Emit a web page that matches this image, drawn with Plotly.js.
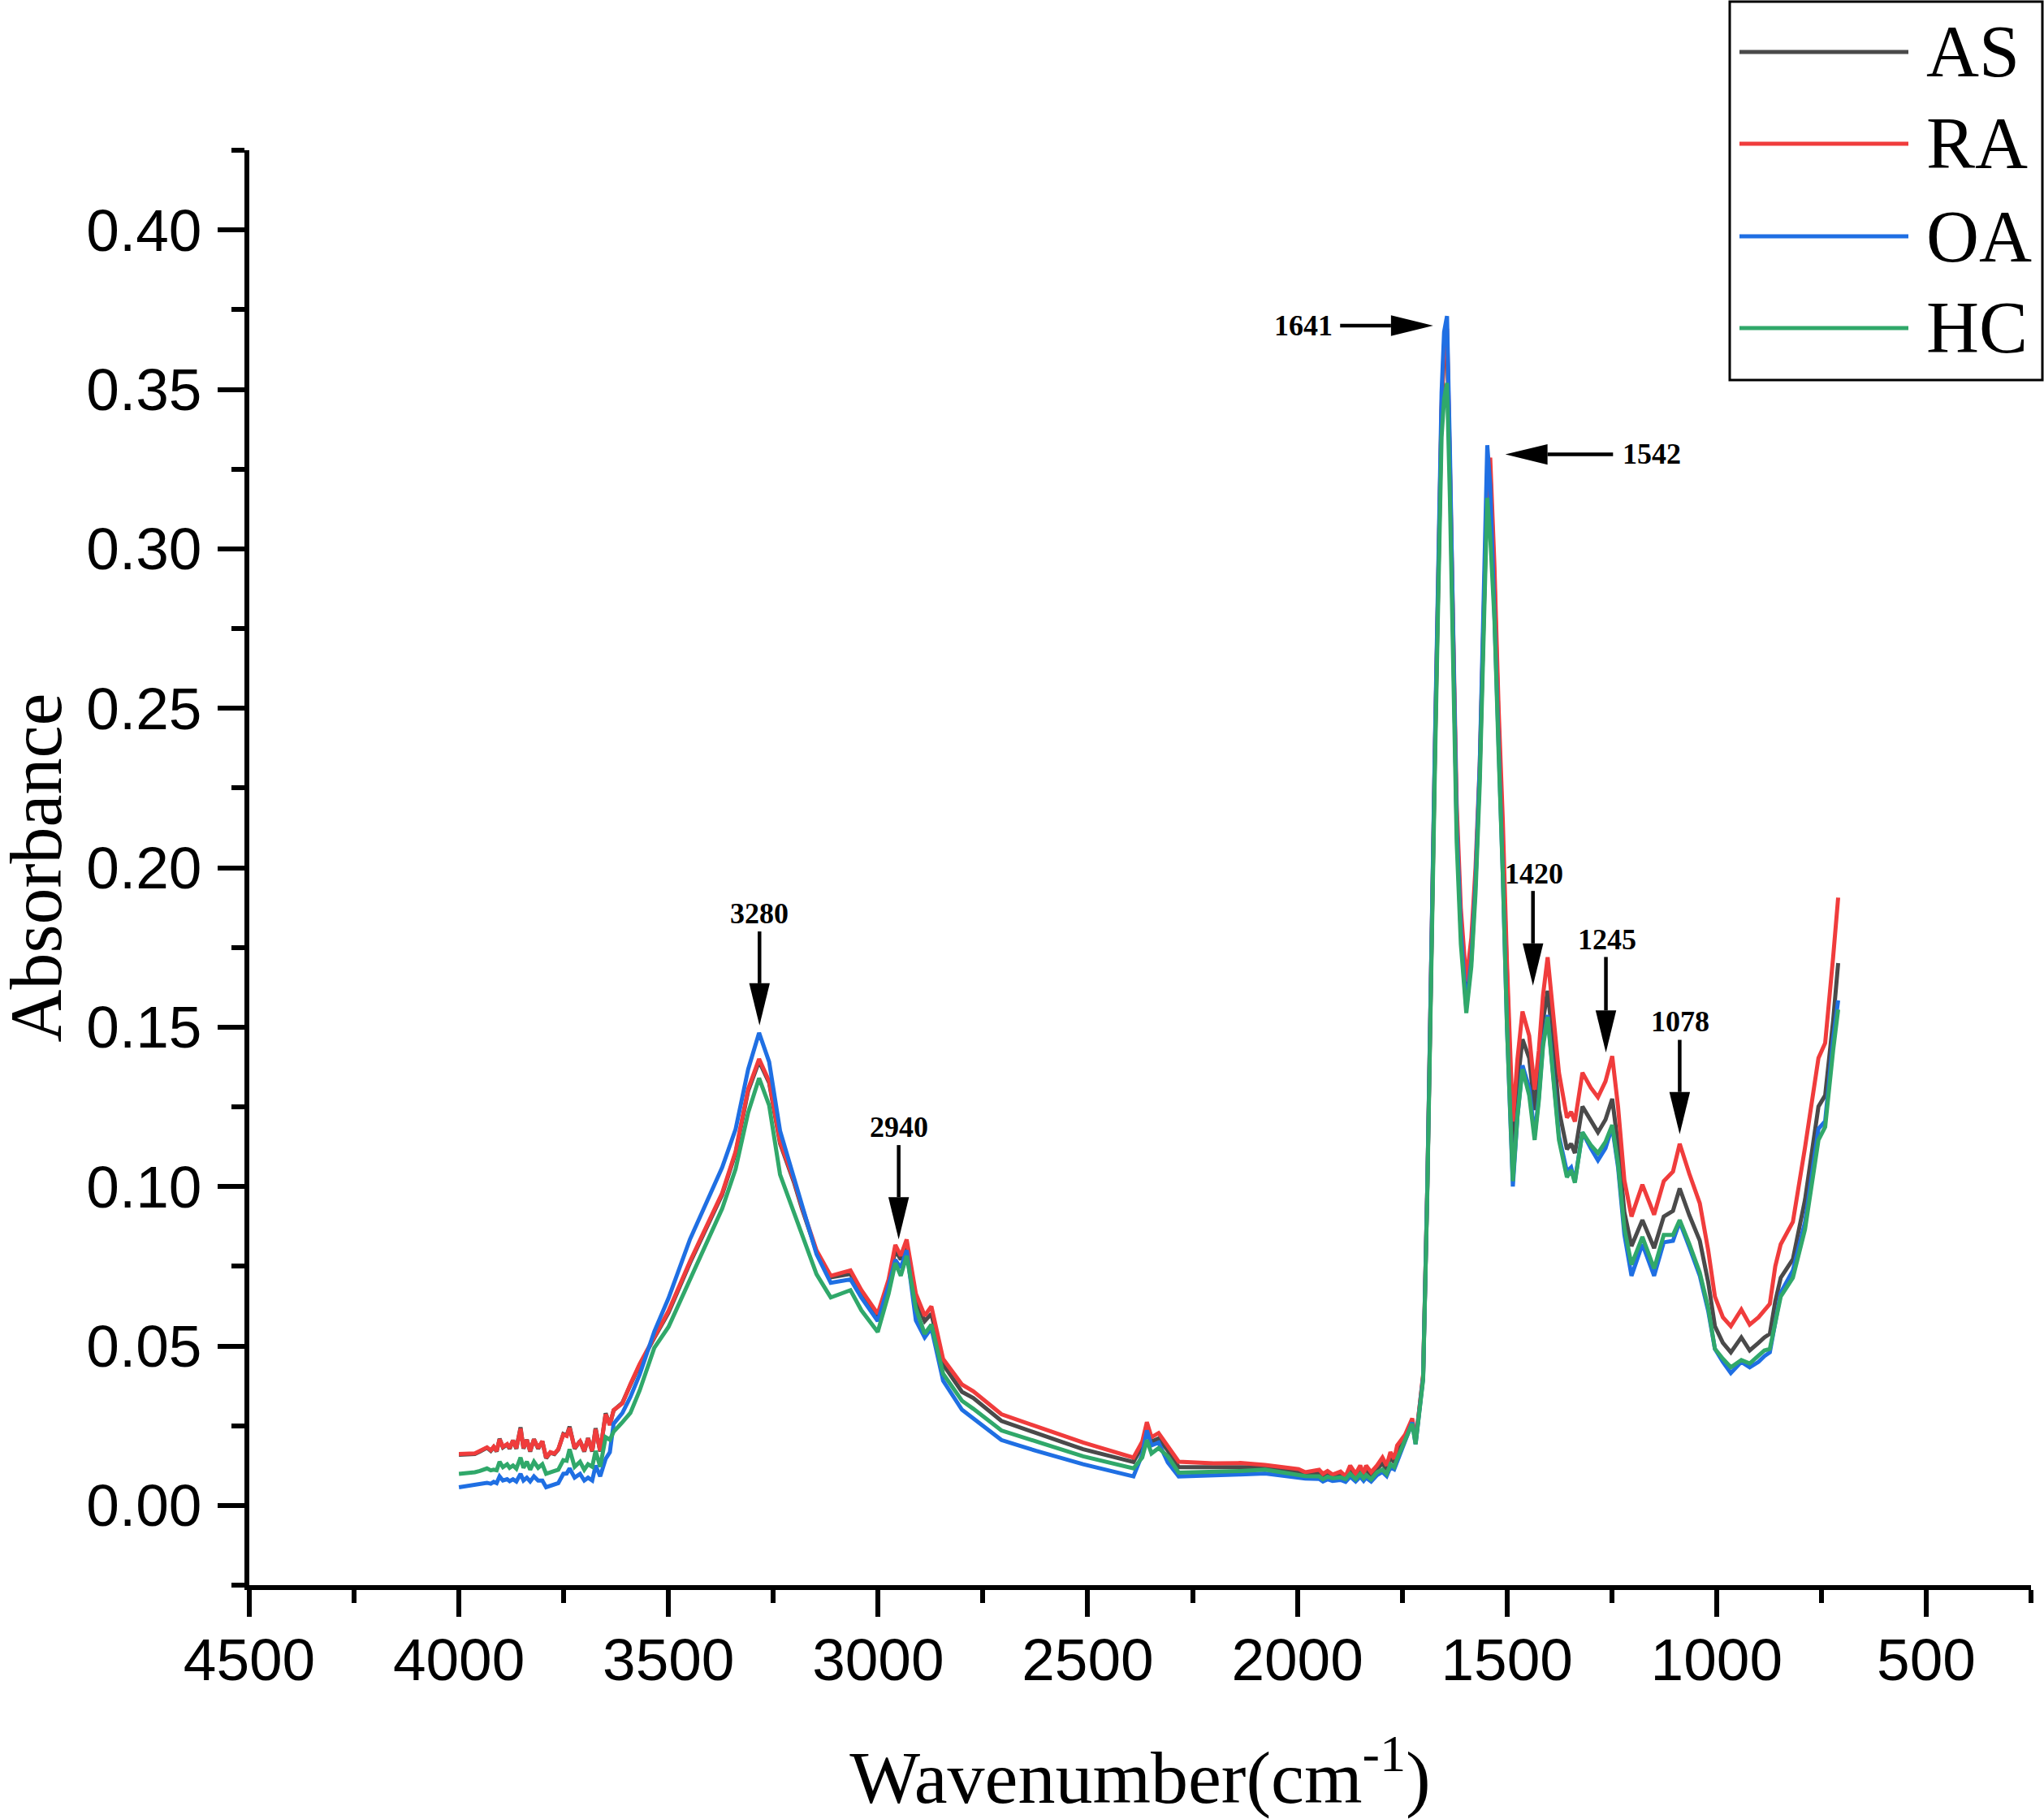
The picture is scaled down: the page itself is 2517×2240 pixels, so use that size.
<!DOCTYPE html>
<html>
<head>
<meta charset="utf-8">
<script src="https://cdn.plot.ly/plotly-3.0.1.min.js"></script>
<style>
  body { margin: 0; background: #fff; }
  #chart { width: 2517px; height: 2240px; }
</style>
</head>
<body>
<div id="chart"></div>
<script>
// FTIR spectra of the four samples

const wavenumber = [
  4000, 3982, 3962, 3950, 3933, 3924, 3917, 3910, 3903, 3895,
  3885, 3879, 3871, 3863, 3853, 3846, 3838, 3830, 3821, 3811,
  3801, 3792, 3782, 3772, 3763, 3751, 3743, 3736, 3724, 3711,
  3701, 3692, 3682, 3674, 3663, 3650, 3640,
  3631, 3610, 3591, 3569, 3534, 3500, 3449, 3410, 3372, 3340,
  3310, 3284, 3260, 3234, 3200, 3182, 3147, 3113, 3066, 3040,
  3001, 2975, 2959, 2946, 2932, 2910, 2889, 2873, 2845, 2800,
  2773, 2706, 2623, 2511, 2391, 2370, 2359, 2348, 2331, 2309,
  2283, 2200, 2136,
  2077, 2039, 1997, 1981, 1948, 1939, 1928, 1916, 1897, 1885,
  1874, 1861, 1850, 1842, 1836, 1824, 1810, 1797, 1787, 1778,
  1769, 1762,
  1743, 1726, 1718,
  1709, 1700, 1690, 1680, 1672, 1664, 1656, 1650, 1643, 1636,
  1628, 1620, 1610, 1597, 1585, 1575, 1565, 1555, 1547, 1540,
  1530, 1520, 1510, 1500, 1486, 1475, 1463, 1447, 1434, 1424,
  1414, 1403, 1390, 1376, 1357, 1347, 1338, 1320, 1300, 1283,
  1265, 1249, 1235, 1220, 1203, 1177, 1149, 1126, 1104, 1088,
  1065, 1040, 1020, 1004, 985, 966, 941, 921, 900, 886,
  873, 860, 847, 818, 789, 757, 741, 722, 710
];

const asValues = [
  .0159, .0159, .0161, .0169, .0181, .0171, .0183, .0169, .0209, .0182,
  .0191, .0178, .0204, .0178, .0245, .0178, .0206, .0169, .0208, .0178,
  .0201, .0148, .0165, .0161, .0175, .0224, .0219, .0247, .0178, .0202,
  .0169, .0211, .0169, .0242, .0169, .0289, .0253,
  .0298, .0322, .0378, .0440, .0525, .0605, .0760, .0870, .0975, .1105,
  .1300, .1393, .1325, .1135, .1010, .0932, .0795, .0715, .0726, .0665,
  .0590, .0700, .0800, .0771, .0815, .0641, .0578, .0601, .0442, .0356,
  .0337, .0265, .0227, .0176, .0136, .0185, .0248, .0200, .0210, .0172,
  .0120, .0120, .0120,
  .0120, .0113, .0106, .0098, .0103, .0092, .0100, .0090, .0097, .0086,
  .0112, .0090, .0112, .0092, .0112, .0095, .0115, .0132, .0113, .0150,
  .0135, .0170,
  .0215, .0268, .0200,
  .0298, .0405, .0995, .1840, .2350, .2890, .3430, .3620, .3660, .3240,
  .2620, .2150, .1820, .1600, .1740, .1960, .2300, .2830, .3210, .3240,
  .2900, .2450, .2080, .1620, .1123, .1320, .1462, .1403, .1240, .1360,
  .1520, .1614, .1450, .1240, .1117, .1134, .1105, .1251, .1210, .1170,
  .1210, .1275, .1130, .0920, .0813, .0895, .0807, .0906, .0924, .0994,
  .0910, .0830, .0700, .0562, .0510, .0480, .0527, .0486, .0510, .0527,
  .0538, .0640, .0714, .0772, .0959, .1251, .1286, .1520, .1701
];

const raValues = [
  .0161, .0161, .0163, .0171, .0182, .0173, .0184, .0171, .0207, .0184,
  .0192, .0180, .0203, .0180, .0241, .0180, .0205, .0171, .0207, .0180,
  .0201, .0150, .0167, .0163, .0176, .0222, .0218, .0243, .0180, .0201,
  .0171, .0210, .0171, .0239, .0171, .0286, .0252,
  .0299, .0320, .0380, .0443, .0528, .0610, .0765, .0875, .0980, .1110,
  .1306, .1400, .1330, .1140, .1016, .0937, .0800, .0720, .0737, .0675,
  .0601, .0709, .0817, .0783, .0834, .0664, .0595, .0624, .0459, .0379,
  .0358, .0286, .0248, .0197, .0150, .0200, .0261, .0214, .0227, .0188,
  .0137, .0132, .0133,
  .0127, .0120, .0114, .0104, .0112, .0099, .0108, .0097, .0106, .0091,
  .0125, .0099, .0125, .0099, .0125, .0104, .0125, .0150, .0125, .0167,
  .0146, .0188,
  .0222, .0273, .0205,
  .0303, .0410, .1000, .1850, .2360, .2900, .3450, .3640, .3690, .3260,
  .2650, .2200, .1870, .1643, .1780, .2000, .2320, .2850, .3220, .3286,
  .2950, .2500, .2150, .1700, .1204, .1400, .1549, .1473, .1304, .1427,
  .1600, .1719, .1550, .1357, .1216, .1234, .1204, .1357, .1310, .1280,
  .1330, .1409, .1250, .1020, .0906, .1006, .0912, .1017, .1047, .1134,
  .1040, .0947, .0800, .0655, .0590, .0562, .0614, .0567, .0590, .0614,
  .0632, .0750, .0819, .0889, .1123, .1403, .1450, .1719, .1906
];

const oaValues = [
  .0057, .0060, .0066, .0068, .0071, .0068, .0074, .0070, .0091, .0078,
  .0082, .0076, .0082, .0075, .0099, .0078, .0087, .0075, .0091, .0078,
  .0078, .0057, .0062, .0066, .0070, .0099, .0100, .0116, .0087, .0099,
  .0078, .0087, .0078, .0125, .0091, .0146, .0167,
  .0256, .0290, .0340, .0410, .0545, .0650, .0834, .0950, .1060, .1180,
  .1368, .1482, .1391, .1175, .1027, .0947, .0788, .0698, .0709, .0652,
  .0578, .0690, .0770, .0745, .0800, .0580, .0527, .0556, .0391, .0300,
  .0273, .0205, .0171, .0129, .0091, .0160, .0235, .0188, .0197, .0135,
  .0091, .0093, .0097,
  .0100, .0094, .0088, .0084, .0083, .0075, .0082, .0077, .0080, .0074,
  .0090, .0075, .0090, .0077, .0087, .0075, .0095, .0105, .0092, .0120,
  .0113, .0138,
  .0205, .0260, .0192,
  .0290, .0400, .1000, .1860, .2380, .2930, .3490, .3680, .3730, .3300,
  .2620, .2130, .1800, .1560, .1710, .1950, .2320, .2880, .3325, .3200,
  .2820, .2360, .1980, .1500, .1000, .1220, .1380, .1310, .1160, .1280,
  .1450, .1538, .1370, .1158, .1047, .1060, .1017, .1170, .1120, .1082,
  .1120, .1187, .1060, .0850, .0720, .0819, .0720, .0825, .0830, .0889,
  .0810, .0720, .0610, .0491, .0450, .0415, .0450, .0433, .0450, .0468,
  .0480, .0580, .0667, .0737, .0889, .1181, .1205, .1462, .1584
];

const hcValues = [
  .0099, .0100, .0104, .0108, .0116, .0110, .0112, .0110, .0137, .0120,
  .0129, .0118, .0125, .0115, .0150, .0118, .0137, .0112, .0137, .0118,
  .0129, .0099, .0105, .0108, .0112, .0142, .0140, .0176, .0121, .0137,
  .0112, .0129, .0121, .0171, .0121, .0214, .0206,
  .0231, .0261, .0290, .0360, .0494, .0560, .0709, .0820, .0931, .1055,
  .1232, .1340, .1255, .1038, .0914, .0845, .0725, .0652, .0675, .0612,
  .0544, .0664, .0760, .0720, .0783, .0618, .0538, .0567, .0413, .0328,
  .0303, .0235, .0201, .0154, .0116, .0150, .0205, .0163, .0180, .0154,
  .0103, .0105, .0108,
  .0112, .0104, .0097, .0092, .0091, .0082, .0090, .0085, .0088, .0082,
  .0099, .0082, .0099, .0085, .0095, .0082, .0104, .0112, .0099, .0129,
  .0120, .0146,
  .0205, .0256, .0192,
  .0285, .0395, .0980, .1800, .2300, .2840, .3350, .3470, .3520, .3150,
  .2550, .2080, .1760, .1544, .1690, .1920, .2260, .2770, .3160, .3040,
  .2780, .2360, .1980, .1500, .1017, .1220, .1368, .1286, .1146, .1270,
  .1440, .1532, .1360, .1146, .1029, .1052, .1012, .1170, .1130, .1105,
  .1140, .1193, .1070, .0870, .0755, .0842, .0743, .0848, .0848, .0895,
  .0820, .0730, .0620, .0491, .0460, .0433, .0456, .0445, .0470, .0486,
  .0491, .0580, .0655, .0714, .0866, .1146, .1187, .1427, .1555
];

const seriesNames = ['AS', 'RA', 'OA', 'HC'];
const seriesColors = ['#4a4a4a', '#f03c3c', '#1f6fe3', '#30a86a'];
const seriesValues = [asValues, raValues, oaValues, hcValues];

// peak markers: label position, arrow tail and arrow tip (data units)
const peakMarks = [
  { text: '3280', tx: 3283, ty: 0.1857, x0: 3283, y0: 0.180, x1: 3283, y1: 0.1505 },
  { text: '2940', tx: 2951, ty: 0.1186, x0: 2951, y0: 0.113, x1: 2951, y1: 0.0834 },
  { text: '1641', tx: 1986, ty: 0.370, x0: 1898, y0: 0.370, x1: 1676, y1: 0.370 },
  { text: '1542', tx: 1155, ty: 0.3298, x0: 1247, y0: 0.3296, x1: 1504, y1: 0.3296 },
  { text: '1420', tx: 1435, ty: 0.198, x0: 1438, y0: 0.1927, x1: 1438, y1: 0.163 },
  { text: '1245', tx: 1261, ty: 0.1774, x0: 1264, y0: 0.172, x1: 1264, y1: 0.142 },
  { text: '1078', tx: 1086, ty: 0.1517, x0: 1088, y0: 0.146, x1: 1088, y1: 0.1164 }
];

const W = 2517, H = 2240;
const M = { l: 307, r: 16, t: 185, b: 288 };
const plotW = W - M.l - M.r;
const plotH = H - M.t - M.b;
const xRange = [4500, 250];
const yRange = [-0.025, 0.425];
const pxPerX = plotW / (xRange[0] - xRange[1]);
const pxPerY = plotH / (yRange[1] - yRange[0]);

const serif = 'Liberation Serif, Times New Roman, serif';
const sans = 'Liberation Sans, Arial, sans-serif';

function paperX(px) { return (px - M.l) / plotW; }
function paperY(py) { return (H - M.b - py) / plotH; }

const traces = seriesNames.map((name, i) => ({
  x: wavenumber,
  y: seriesValues[i],
  name: name,
  type: 'scatter',
  mode: 'lines',
  line: { color: seriesColors[i], width: 5 },
  showlegend: false
}));

const shapes = [];
const annotations = [];

// arrows with big filled heads
const headLen = 52, headHalf = 12.7;
peakMarks.forEach(p => {
  // direction in pixels (x axis is reversed)
  const dx = -(p.x1 - p.x0) * pxPerX;
  const dy = -(p.y1 - p.y0) * pxPerY;
  const len = Math.hypot(dx, dy);
  const ux = dx / len, uy = dy / len;
  const toX = px => -px / pxPerX;
  const toY = py => -py / pxPerY;
  const bx = p.x1 + toX(-ux * headLen), by = p.y1 + toY(-uy * headLen);
  const lx = bx + toX(-uy * headHalf), ly = by + toY(ux * headHalf);
  const rx = bx + toX(uy * headHalf), ry = by + toY(-ux * headHalf);
  shapes.push({
    type: 'line', xref: 'x', yref: 'y',
    x0: p.x0, y0: p.y0, x1: bx, y1: by,
    line: { color: 'black', width: 4.5 }
  });
  shapes.push({
    type: 'path', xref: 'x', yref: 'y',
    path: `M ${lx},${ly} L ${rx},${ry} L ${p.x1},${p.y1} Z`,
    fillcolor: 'black', line: { width: 0 }
  });
  annotations.push({
    x: p.tx, y: p.ty, xref: 'x', yref: 'y',
    text: p.text, showarrow: false,
    xanchor: 'center', yanchor: 'middle',
    font: { family: serif, size: 36, color: 'black', weight: 'bold' }
  });
});

// legend box drawn by hand (long line samples)
shapes.push({
  type: 'rect', xref: 'paper', yref: 'paper',
  x0: paperX(2130), x1: paperX(2515), y0: paperY(468), y1: paperY(2),
  line: { color: 'black', width: 3 }, fillcolor: 'rgba(0,0,0,0)'
});
const legendRows = [64, 177, 291, 404];
seriesNames.forEach((name, i) => {
  shapes.push({
    type: 'line', xref: 'paper', yref: 'paper',
    x0: paperX(2142), x1: paperX(2350),
    y0: paperY(legendRows[i]), y1: paperY(legendRows[i]),
    line: { color: seriesColors[i], width: 5 }
  });
  annotations.push({
    x: paperX(2370), y: paperY(legendRows[i]), xref: 'paper', yref: 'paper',
    text: name, showarrow: false, xanchor: 'left', yanchor: 'middle',
    font: { family: serif, size: 90, color: 'black' }
  });
});

// y axis title placed by hand
annotations.push({
  x: paperX(44), y: 0.5, xref: 'paper', yref: 'paper',
  text: 'Absorbance', showarrow: false, textangle: -90,
  xanchor: 'center', yanchor: 'middle',
  font: { family: serif, size: 90, color: 'black' }
});

const axisCommon = {
  showline: true, linecolor: 'black', linewidth: 6,
  ticks: 'outside', ticklen: 33, tickwidth: 6, tickcolor: 'black',
  showgrid: false, zeroline: false,
  tickfont: { family: sans, size: 73, color: 'black' }
};

const layout = {
  width: W, height: H,
  margin: { l: M.l, r: M.r, t: M.t, b: M.b, pad: 0 },
  paper_bgcolor: 'white', plot_bgcolor: 'white',
  showlegend: false,
  xaxis: Object.assign({}, axisCommon, {
    range: xRange, tick0: 0, dtick: 500,
    ticklabelstandoff: -10,
    minor: { dtick: 250, ticks: 'outside', ticklen: 16, tickwidth: 6, tickcolor: 'black', showgrid: false },
    title: {
      text: 'Wavenumber(cm<sup>-1</sup>)',
      font: { family: serif, size: 92, color: 'black' },
      standoff: 80
    }
  }),
  yaxis: Object.assign({}, axisCommon, {
    range: yRange, tick0: 0, dtick: 0.05, tickformat: '.2f',
    ticklabelstandoff: 5,
    minor: { dtick: 0.025, ticks: 'outside', ticklen: 16, tickwidth: 6, tickcolor: 'black', showgrid: false }
  }),
  shapes: shapes,
  annotations: annotations
};

Plotly.newPlot('chart', traces, layout, { staticPlot: true, displayModeBar: false });
</script>
</body>
</html>
